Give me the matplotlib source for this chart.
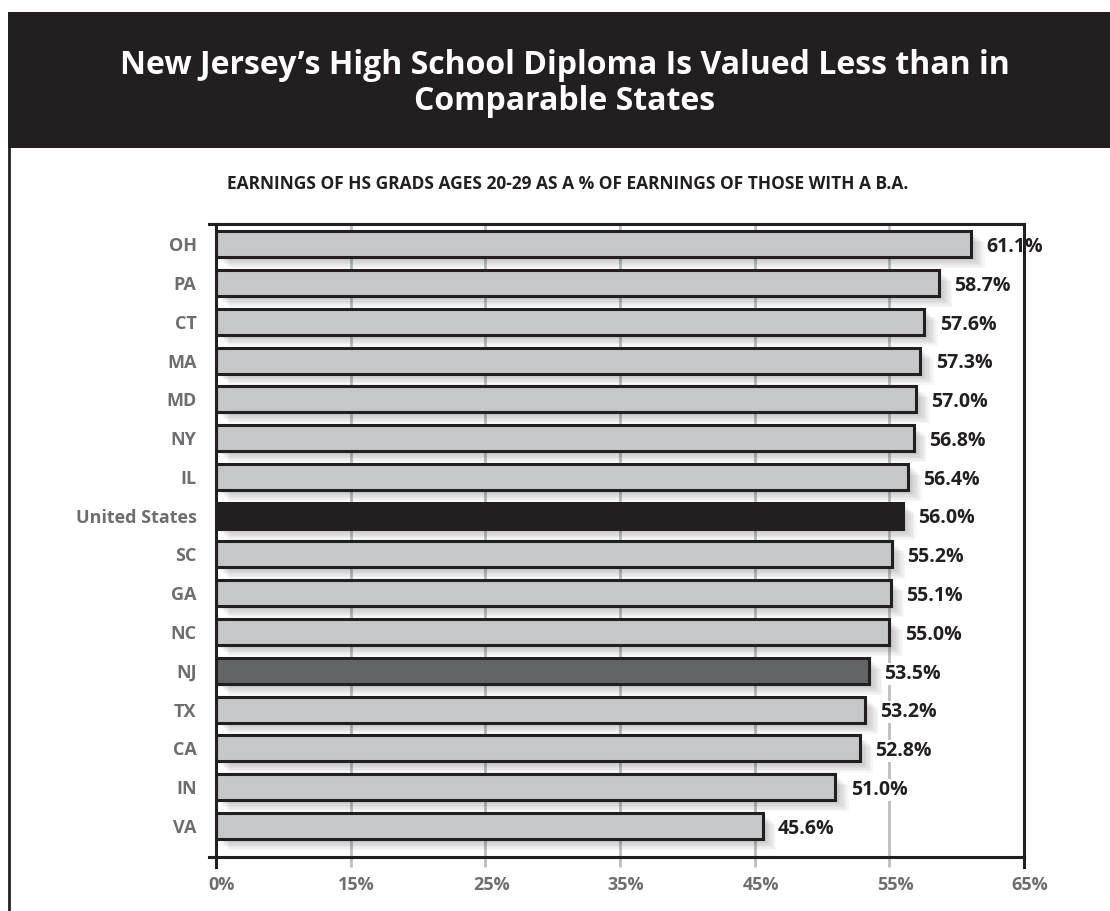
import numpy as np
import matplotlib
matplotlib.use("Agg")
import matplotlib.pyplot as plt
import matplotlib.patheffects as pe
from matplotlib.patches import Rectangle
from matplotlib.lines import Line2D
from matplotlib.transforms import ScaledTranslation

# Earnings of HS grads ages 20-29 as a % of earnings of B.A. holders
states = ["OH", "PA", "CT", "MA", "MD", "NY", "IL", "United States",
          "SC", "GA", "NC", "NJ", "TX", "CA", "IN", "VA"]
values = [61.1, 58.7, 57.6, 57.3, 57.0, 56.8, 56.4, 56.0,
          55.2, 55.1, 55.0, 53.5, 53.2, 52.8, 51.0, 45.6]
tick_values = [0, 15, 25, 35, 45, 55, 65]
tick_labels = ["0%", "15%", "25%", "35%", "45%", "55%", "65%"]

DARK = "#231f20"
BAR_GRAY = "#c6c7c9"
NJ_GRAY = "#636466"
LABEL_GRAY = "#6d6e71"
GRID_GRAY = "#bcbec0"

plt.rcParams['font.family'] = ['Open Sans', 'DejaVu Sans']

# axis ticks are evenly spaced even though the first step is 15 points
tv = np.array(tick_values, dtype=float)
ti = np.arange(len(tv), dtype=float)


def forward(x):
    x = np.asarray(x, dtype=float)
    y = np.interp(x, tv, ti)
    y = np.where(x < tv[0], (x - tv[0]) / (tv[1] - tv[0]), y)
    y = np.where(x > tv[-1], ti[-1] + (x - tv[-1]) / (tv[-1] - tv[-2]), y)
    return y


def inverse(y):
    y = np.asarray(y, dtype=float)
    x = np.interp(y, ti, tv)
    x = np.where(y < ti[0], tv[0] + y * (tv[1] - tv[0]), x)
    x = np.where(y > ti[-1], tv[-1] + (y - ti[-1]) * (tv[-1] - tv[-2]), x)
    return x


W, H = 1110, 911
fig = plt.figure(figsize=(W / 100, H / 100), dpi=100)
fig.patch.set_facecolor("white")

# header band and frame
fig.patches.append(Rectangle((8 / W, 1 - 148 / H), 1 - 8 / W, 136 / H,
                             transform=fig.transFigure, facecolor=DARK,
                             edgecolor="none", zorder=0))
fig.lines.append(Line2D([9 / W, 9 / W], [0, 1 - 148 / H],
                        transform=fig.transFigure, color=DARK, lw=2))

fig.text(0.509, 1 - 84 / H,
         "New Jersey’s High School Diploma Is Valued Less than in\nComparable States",
         color="white", fontsize=23, fontweight="bold", ha="center",
         va="center", linespacing=1.12)
fig.text(0.511, 1 - 184 / H,
         "EARNINGS OF HS GRADS AGES 20-29 AS A % OF EARNINGS OF THOSE WITH A B.A.",
         color=DARK, fontsize=12.5, fontweight="bold", ha="center", va="center")

ax = fig.add_axes([216 / W, 54 / H, 808 / W, 633 / H])
ax.set_xscale("function", functions=(forward, inverse))
ax.set_xlim(tick_values[0], tick_values[-1])

y = np.arange(len(states))
colors = [BAR_GRAY] * len(states)
colors[states.index("United States")] = DARK
colors[states.index("NJ")] = NJ_GRAY

shadow = [pe.SimplePatchShadow(offset=(1.2 * k, -1.0 * k), shadow_rgbFace="k",
                               alpha=0.03) for k in range(1, 9)]
bars = ax.barh(y, values, height=0.67, color=colors, edgecolor=DARK,
               linewidth=2.2, zorder=3)
for b in bars:
    b.set_path_effects(shadow + [pe.Normal()])

for yi, v in zip(y, values):
    ax.annotate(f"{v:.1f}%", xy=(v, yi), xytext=(11, -2),
                textcoords="offset points", ha="left", va="center",
                fontsize=14, fontweight="bold", color=DARK, zorder=5,
                bbox=dict(boxstyle="square,pad=0.05", fc="white", ec="none"))

ax.set_ylim(len(states) - 1 + 0.8, -0.52)
ax.set_yticks(y)
ax.set_yticklabels(states, fontsize=13, fontweight="bold", color=LABEL_GRAY)
ax.tick_params(axis="y", length=0, pad=14)

ax.set_xticks(tick_values)
ax.set_xticklabels(tick_labels, fontsize=13, fontweight="bold", color=LABEL_GRAY)
ax.tick_params(axis="x", length=7, width=2, color=GRID_GRAY, pad=7)
offset = ScaledTranslation(6 / 100, 0, fig.dpi_scale_trans)
for lab in ax.get_xticklabels():
    lab.set_transform(lab.get_transform() + offset)

ax.grid(axis="x", color=GRID_GRAY, linewidth=2, zorder=0)
ax.set_axisbelow(True)
for s in ax.spines.values():
    s.set_color(DARK)
    s.set_linewidth(2.2)
    s.set_zorder(6)

# spine ends poking past the corners
for xv in (tick_values[0], tick_values[-1]):
    ax.plot([xv, xv], [0, -0.016], color=DARK, lw=2.2, clip_on=False,
            transform=ax.get_xaxis_transform(), zorder=7)
for yv in (0, 1):
    ax.plot([-0.009, 0], [yv, yv], color=DARK, lw=2.2, clip_on=False,
            transform=ax.transAxes, zorder=7)

fig.savefig("out.png", dpi=100)
